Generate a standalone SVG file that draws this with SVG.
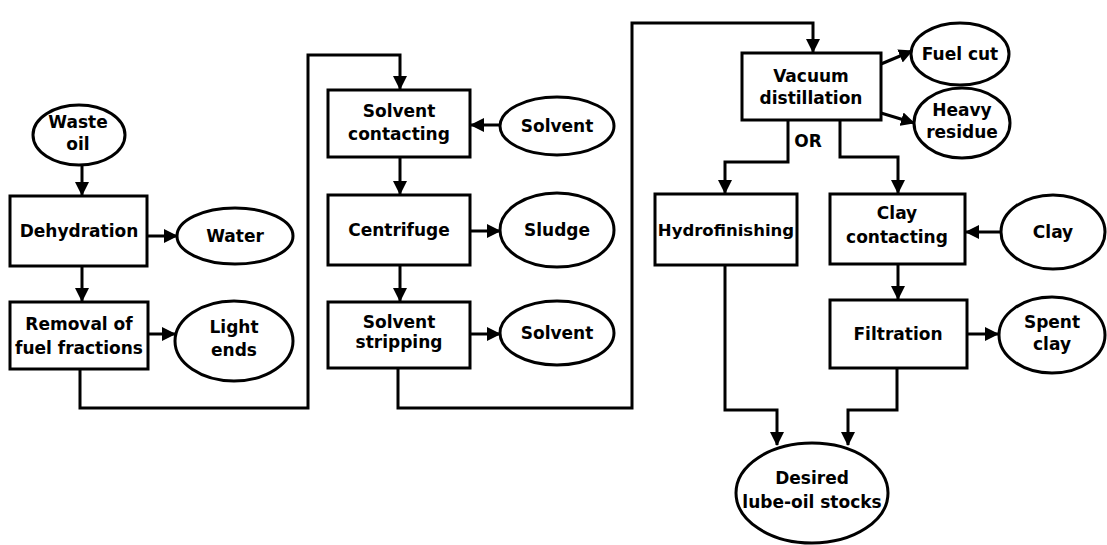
<svg xmlns="http://www.w3.org/2000/svg" width="1107" height="545" viewBox="0 0 1107 545">
<style>
.b{fill:#fff;stroke:#000;stroke-width:3}
.t{font-family:"DejaVu Sans",sans-serif;font-weight:bold;font-size:17px;text-anchor:middle;fill:#000}
.c{fill:none;stroke:#000;stroke-width:3}
</style>
<defs>
<marker id="a" markerUnits="userSpaceOnUse" markerWidth="15" markerHeight="15" refX="13" refY="7" orient="auto" viewBox="0 0 15 14">
<path d="M0,0 L14,7 L0,14 z" fill="#000"/>
</marker>
</defs>
<rect width="1107" height="545" fill="#fff"/>
<g id="connectors">
<path class="c" d="M82 165 V195" marker-end="url(#a)"/>
<path class="c" d="M147 236 H177" marker-end="url(#a)"/>
<path class="c" d="M82 266 V301" marker-end="url(#a)"/>
<path class="c" d="M148 334 H175" marker-end="url(#a)"/>
<path class="c" d="M80 369 V408 H308 V55 H400 V89" marker-end="url(#a)"/>
<path class="c" d="M500 125 H471" marker-end="url(#a)"/>
<path class="c" d="M400 157 V194" marker-end="url(#a)"/>
<path class="c" d="M470 231 H500" marker-end="url(#a)"/>
<path class="c" d="M400 265 V301" marker-end="url(#a)"/>
<path class="c" d="M470 334 H500" marker-end="url(#a)"/>
<path class="c" d="M398 368 V408 H632 V23 H813 V52" marker-end="url(#a)"/>
<path class="c" d="M881 64 L912 51" marker-end="url(#a)"/>
<path class="c" d="M881 113 L914 123" marker-end="url(#a)"/>
<path class="c" d="M788 120 V162 H725 V193" marker-end="url(#a)"/>
<path class="c" d="M840 120 V157 H898 V193" marker-end="url(#a)"/>
<path class="c" d="M1000 232 H966" marker-end="url(#a)"/>
<path class="c" d="M898 264 V299" marker-end="url(#a)"/>
<path class="c" d="M967 334 H998" marker-end="url(#a)"/>
<path class="c" d="M725 265 V410 H777 V445" marker-end="url(#a)"/>
<path class="c" d="M897 368 V410 H848 V445" marker-end="url(#a)"/>
</g>
<g id="waste-oil"><ellipse class="b" cx="79" cy="135" rx="46" ry="30"/><text class="t" x="78" y="128">Waste</text><text class="t" x="78" y="150">oil</text></g>
<g id="dehydration"><rect class="b" x="10" y="196" width="137" height="70"/><text class="t" x="79" y="237">Dehydration</text></g>
<g id="water"><ellipse class="b" cx="235" cy="236" rx="58" ry="28"/><text class="t" x="235" y="242">Water</text></g>
<g id="removal"><rect class="b" x="10" y="302" width="138" height="67"/><text class="t" x="79" y="330">Removal of</text><text class="t" x="79" y="354">fuel fractions</text></g>
<g id="light-ends"><ellipse class="b" cx="234" cy="341" rx="59" ry="40"/><text class="t" x="234" y="333">Light</text><text class="t" x="234" y="356">ends</text></g>
<g id="solvent-contacting"><rect class="b" x="328" y="90" width="142" height="67"/><text class="t" x="399" y="117">Solvent</text><text class="t" x="399" y="140">contacting</text></g>
<g id="solvent-in"><ellipse class="b" cx="557" cy="126" rx="57" ry="29"/><text class="t" x="557" y="132">Solvent</text></g>
<g id="centrifuge"><rect class="b" x="328" y="195" width="142" height="70"/><text class="t" x="399" y="236">Centrifuge</text></g>
<g id="sludge"><ellipse class="b" cx="557" cy="230" rx="57" ry="37"/><text class="t" x="557" y="236">Sludge</text></g>
<g id="solvent-stripping"><rect class="b" x="328" y="302" width="142" height="66"/><text class="t" x="399" y="328">Solvent</text><text class="t" x="399" y="348">stripping</text></g>
<g id="solvent-out"><ellipse class="b" cx="557" cy="333" rx="57" ry="32"/><text class="t" x="557" y="339">Solvent</text></g>
<g id="vacuum-distillation"><rect class="b" x="742" y="53" width="139" height="67"/><text class="t" x="811" y="82">Vacuum</text><text class="t" x="811" y="104">distillation</text></g>
<g id="fuel-cut"><ellipse class="b" cx="960" cy="54" rx="49" ry="31"/><text class="t" x="960" y="60">Fuel cut</text></g>
<g id="heavy-residue"><ellipse class="b" cx="962" cy="123" rx="48" ry="35"/><text class="t" x="962" y="116">Heavy</text><text class="t" x="962" y="138">residue</text></g>
<g id="or-label"><text class="t" x="808" y="147">OR</text></g>
<g id="hydrofinishing"><rect class="b" x="655" y="194" width="142" height="71"/><text class="t" x="726" y="236" style="font-size:16.5px">Hydrofinishing</text></g>
<g id="clay-contacting"><rect class="b" x="830" y="194" width="135" height="70"/><text class="t" x="897" y="219">Clay</text><text class="t" x="897" y="243">contacting</text></g>
<g id="clay"><ellipse class="b" cx="1053" cy="232" rx="52" ry="37"/><text class="t" x="1053" y="238">Clay</text></g>
<g id="filtration"><rect class="b" x="830" y="300" width="137" height="68"/><text class="t" x="898" y="340">Filtration</text></g>
<g id="spent-clay"><ellipse class="b" cx="1052" cy="335" rx="53" ry="38"/><text class="t" x="1052" y="328">Spent</text><text class="t" x="1052" y="350">clay</text></g>
<g id="lube-oil"><ellipse class="b" cx="812" cy="493" rx="76" ry="50"/><text class="t" x="812" y="484">Desired</text><text class="t" x="812" y="508">lube-oil stocks</text></g>
</svg>
